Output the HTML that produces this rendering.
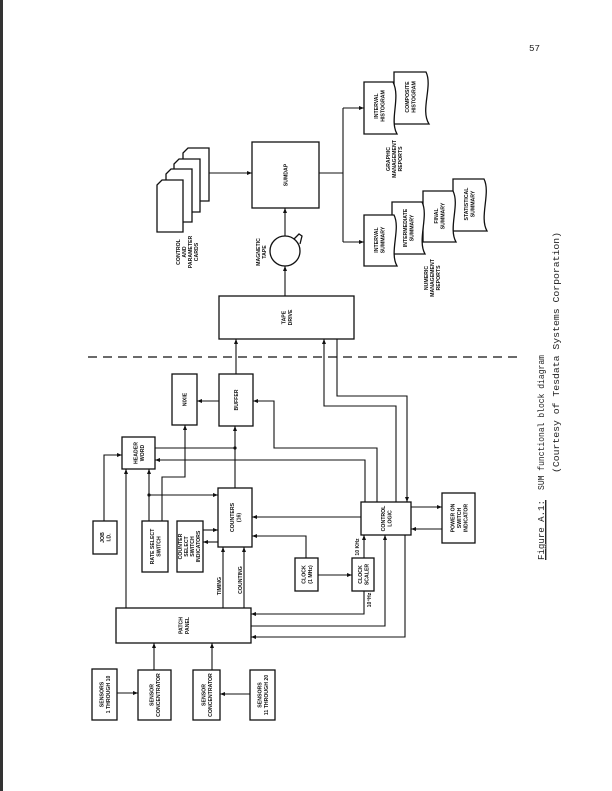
<!DOCTYPE html>
<html><head><meta charset="utf-8"><style>
html,body{margin:0;padding:0;background:#fff;}
svg{display:block;}
.l{font-family:"Liberation Sans",sans-serif;font-weight:bold;font-size:5.2px;fill:#111;text-anchor:middle;}
.c{font-family:"Liberation Mono",monospace;font-size:9.2px;fill:#222;}
</style></head><body>
<svg width="612" height="791" viewBox="0 0 612 791" xmlns="http://www.w3.org/2000/svg">
<defs>
<marker id="a" viewBox="0 0 10 10" refX="10" refY="5" markerWidth="5" markerHeight="5" orient="auto" markerUnits="userSpaceOnUse"><path d="M0,1 L10,5 L0,9 Z" fill="#111"/></marker>
</defs>
<rect x="0" y="0" width="3" height="791" fill="#333"/>
<text class="c" x="529" y="51">57</text>

<g fill="none" stroke="#111" stroke-width="1.3">
<!-- boxes -->
<rect x="92" y="669" width="25" height="51"/>
<rect x="138" y="670" width="33" height="50"/>
<rect x="193" y="670" width="27" height="50"/>
<rect x="250" y="670" width="25" height="50"/>
<rect x="116" y="608" width="135" height="35"/>
<rect x="93" y="521" width="24" height="33"/>
<rect x="142" y="521" width="26" height="51"/>
<rect x="177" y="521" width="26" height="51"/>
<rect x="122" y="437" width="33" height="32"/>
<rect x="218" y="488" width="34" height="59"/>
<rect x="172" y="374" width="25" height="51"/>
<rect x="219" y="374" width="34" height="52"/>
<rect x="295" y="558" width="23" height="33"/>
<rect x="352" y="558" width="22" height="33"/>
<rect x="361" y="502" width="50" height="33"/>
<rect x="442" y="493" width="33" height="50"/>
<rect x="219" y="296" width="135" height="43"/>
<rect x="252" y="142" width="67" height="66"/>
</g>

<!-- cards -->
<g fill="#fff" stroke="#111" stroke-width="1.3">
<path d="M183,153 L188,148 L209,148 L209,201 L183,201 Z"/>
<path d="M174,164 L179,159 L200,159 L200,212 L174,212 Z"/>
<path d="M166,174 L171,169 L192,169 L192,222 L166,222 Z"/>
<path d="M157,185 L162,180 L183,180 L183,232 L157,232 Z"/>
</g>

<!-- documents -->
<g fill="#fff" stroke="#111" stroke-width="1.3">
<path d="M394,72 L426,72 C433,86 420,110 429,124 L394,124 Z"/>
<path d="M364,82 L393,82 C401,98 389,120 397,134 L364,134 Z"/>
<path d="M453,179 L484,179 C491,193 479,217 487,231 L453,231 Z"/>
<path d="M423,191 L453,191 C460,205 448,228 456,242 L423,242 Z"/>
<path d="M392,202 L422,202 C429,216 417,240 425,254 L392,254 Z"/>
<path d="M364,215 L394,215 C401,229 389,252 397,266 L364,266 Z"/>
</g>

<!-- magnetic tape -->
<g fill="none" stroke="#111" stroke-width="1.3">
<circle cx="285" cy="251" r="15"/>
<path d="M294,239 L299,234 L302,236 L300,244"/>
</g>

<!-- dashed line -->
<line x1="88" y1="357" x2="522" y2="357" stroke="#111" stroke-width="1.2" stroke-dasharray="9,6"/>

<!-- connectors -->
<g fill="none" stroke="#111" stroke-width="1.1">
<path d="M117,693 H138" marker-end="url(#a)"/>
<path d="M250,694 H220" marker-end="url(#a)"/>
<path d="M154,670 V643" marker-end="url(#a)"/>
<path d="M212,670 V643" marker-end="url(#a)"/>
<path d="M126,608 V469" marker-end="url(#a)"/>
<path d="M223,608 V547" marker-end="url(#a)"/>
<path d="M244,608 V547" marker-end="url(#a)"/>
<path d="M104,521 V455 H122" marker-end="url(#a)"/>
<path d="M149,521 V469" marker-end="url(#a)"/>
<path d="M149,495 H218" marker-end="url(#a)"/>
<path d="M162,521 V477 H185 V425" marker-end="url(#a)"/>
<path d="M203,530 H218" marker-end="url(#a)"/>
<path d="M218,542 H203" marker-end="url(#a)"/>
<path d="M235,488 V426" marker-end="url(#a)"/>
<path d="M155,448 H235"/>
<path d="M219,401 H197" marker-end="url(#a)"/>
<path d="M377,502 V448 H274 V401 H253" marker-end="url(#a)"/>
<path d="M365,502 V460 H155" marker-end="url(#a)"/>
<path d="M361,517 H252" marker-end="url(#a)"/>
<path d="M306,558 V536 H252" marker-end="url(#a)"/>
<path d="M318,575 H352" marker-end="url(#a)"/>
<path d="M364,558 V535" marker-end="url(#a)"/>
<path d="M364,591 V614 H251" marker-end="url(#a)"/>
<path d="M251,626 H385 V535" marker-end="url(#a)"/>
<path d="M405,535 V637 H251" marker-end="url(#a)"/>
<path d="M411,507 H442" marker-end="url(#a)"/>
<path d="M442,529 H411" marker-end="url(#a)"/>
<path d="M396,502 V406 H324 V339" marker-end="url(#a)"/>
<path d="M337,339 V396 H407 V502" marker-end="url(#a)"/>
<path d="M236,374 V339" marker-end="url(#a)"/>
<path d="M285,296 V266" marker-end="url(#a)"/>
<path d="M285,236 V208" marker-end="url(#a)"/>
<path d="M209,173 H252" marker-end="url(#a)"/>
<path d="M319,173 H343"/>
<path d="M343,108 V242"/>
<path d="M343,108 H364" marker-end="url(#a)"/>
<path d="M343,242 H364" marker-end="url(#a)"/>
</g>
<circle cx="149" cy="495" r="1.6" fill="#111"/>
<circle cx="235" cy="448" r="1.6" fill="#111"/>

<!-- labels (rotated) -->
<g class="l">
<g transform="translate(104.5,694.5) rotate(-90)"><text x="0" y="-1">SENSORS</text><text x="0" y="5.5">1 THROUGH 10</text></g>
<g transform="translate(154.5,695) rotate(-90)"><text x="0" y="-1">SENSOR</text><text x="0" y="5.5">CONCENTRATOR</text></g>
<g transform="translate(206.5,695) rotate(-90)"><text x="0" y="-1">SENSOR</text><text x="0" y="5.5">CONCENTRATOR</text></g>
<g transform="translate(262.5,695) rotate(-90)"><text x="0" y="-1">SENSORS</text><text x="0" y="5.5">11 THROUGH 20</text></g>
<g transform="translate(183.5,625.5) rotate(-90)"><text x="0" y="-1">PATCH</text><text x="0" y="5.5">PANEL</text></g>
<g transform="translate(105,537.5) rotate(-90)"><text x="0" y="-1">JOB</text><text x="0" y="5.5">I.D.</text></g>
<g transform="translate(155,546.5) rotate(-90)"><text x="0" y="-1">RATE SELECT</text><text x="0" y="5.5">SWITCH</text></g>
<g transform="translate(190,546.5) rotate(-90)"><text x="0" y="-8">COUNTER</text><text x="0" y="-2">SELECT</text><text x="0" y="4">SWITCH</text><text x="0" y="10">INDICATORS</text></g>
<g transform="translate(138.5,453) rotate(-90)"><text x="0" y="-1">HEADER</text><text x="0" y="5.5">WORD</text></g>
<g transform="translate(235,517.5) rotate(-90)"><text x="0" y="-1">COUNTERS</text><text x="0" y="5.5">(16)</text></g>
<g transform="translate(184.5,399.5) rotate(-90)"><text x="0" y="2">NIXIE</text></g>
<g transform="translate(236,400) rotate(-90)"><text x="0" y="2">BUFFER</text></g>
<g transform="translate(306.5,574.5) rotate(-90)"><text x="0" y="-1">CLOCK</text><text x="0" y="5.5">(1 MHz)</text></g>
<g transform="translate(363,574.5) rotate(-90)"><text x="0" y="-1">CLOCK</text><text x="0" y="5.5">SCALER</text></g>
<g transform="translate(386,518.5) rotate(-90)"><text x="0" y="-1">CONTROL</text><text x="0" y="5.5">LOGIC</text></g>
<g transform="translate(458.5,518) rotate(-90)"><text x="0" y="-4">POWER ON</text><text x="0" y="2.5">SWITCH</text><text x="0" y="9">INDICATOR</text></g>
<g transform="translate(286.5,317.5) rotate(-90)"><text x="0" y="-1">TAPE</text><text x="0" y="5.5">DRIVE</text></g>
<g transform="translate(285.5,175) rotate(-90)"><text x="0" y="2">SUMDAP</text></g>
<g transform="translate(221,586) rotate(-90)"><text x="0" y="0">TIMING</text></g>
<g transform="translate(242,580) rotate(-90)"><text x="0" y="0">COUNTING</text></g>
<g transform="translate(359,547) rotate(-90)"><text x="0" y="0">10 KHz</text></g>
<g transform="translate(371,600) rotate(-90)"><text x="0" y="0">10⁴Hz</text></g>
<g transform="translate(186,252) rotate(-90)"><text x="0" y="-6">CONTROL</text><text x="0" y="0">AND</text><text x="0" y="6">PARAMETER</text><text x="0" y="12">CARDS</text></g>
<g transform="translate(260,252) rotate(-90)"><text x="0" y="0">MAGNETIC</text><text x="0" y="6">TAPE</text></g>
<g transform="translate(379,106) rotate(-90)"><text x="0" y="-1">INTERVAL</text><text x="0" y="5.5">HISTOGRAM</text></g>
<g transform="translate(410,97) rotate(-90)"><text x="0" y="-1">COMPOSITE</text><text x="0" y="5.5">HISTOGRAM</text></g>
<g transform="translate(396,159) rotate(-90)"><text x="0" y="-6">GRAPHIC</text><text x="0" y="0">MANAGEMENT</text><text x="0" y="6">REPORTS</text></g>
<g transform="translate(379,240) rotate(-90)"><text x="0" y="-1">INTERVAL</text><text x="0" y="5.5">SUMMARY</text></g>
<g transform="translate(408,228) rotate(-90)"><text x="0" y="-1">INTERMEDIATE</text><text x="0" y="5.5">SUMMARY</text></g>
<g transform="translate(439,216) rotate(-90)"><text x="0" y="-1">FINAL</text><text x="0" y="5.5">SUMMARY</text></g>
<g transform="translate(469,204) rotate(-90)"><text x="0" y="-1">STATISTICAL</text><text x="0" y="5.5">SUMMARY</text></g>
<g transform="translate(434,278) rotate(-90)"><text x="0" y="-6">NUMERIC</text><text x="0" y="0">MANAGEMENT</text><text x="0" y="6">REPORTS</text></g>
</g>

<!-- caption -->
<g transform="translate(544,560) rotate(-90)">
<text class="c" x="0" y="0" textLength="60" lengthAdjust="spacingAndGlyphs" text-decoration="underline">Figure A.1:</text>
<line x1="0" y1="2" x2="60" y2="2" stroke="#222" stroke-width="0.8"/>
<text class="c" x="70" y="0" textLength="135" lengthAdjust="spacingAndGlyphs">SUM functional block diagram</text>
</g>
<g transform="translate(559,473) rotate(-90)">
<text class="c" x="0" y="0" textLength="241" lengthAdjust="spacingAndGlyphs">(Courtesy of Tesdata Systems Corporation)</text>
</g>
</svg>
</body></html>
